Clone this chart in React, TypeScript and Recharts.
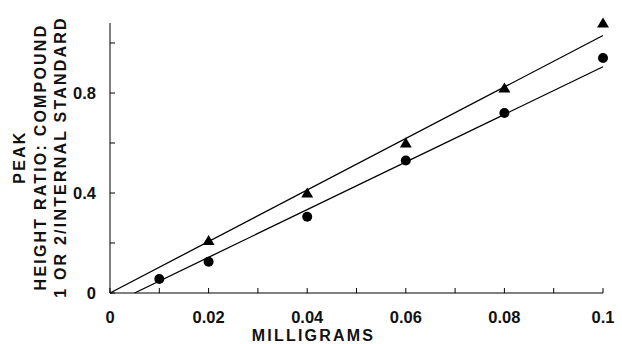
import React from 'react';
import { ScatterChart, Scatter, XAxis, YAxis, Label } from 'recharts';

const triangleX = [0.02, 0.04, 0.06, 0.08, 0.1];
const triangleY = [0.21, 0.40, 0.60, 0.82, 1.08];
const circleX = [0.01, 0.02, 0.04, 0.06, 0.08, 0.1];
const circleY = [0.056, 0.125, 0.305, 0.53, 0.72, 0.94];
const upperLineX = [0, 0.1];
const upperLineY = [0, 1.03];
const lowerLineX = [0.005, 0.1];
const lowerLineY = [0, 0.905];
const xTicks = [0, 0.01, 0.02, 0.03, 0.04, 0.05, 0.06, 0.07, 0.08, 0.09, 0.1];
const xLabeled = ['0', '0.02', '0.04', '0.06', '0.08', '0.1'];
const yTicks = [0, 0.2, 0.4, 0.6, 0.8, 1.0];
const yLabeled = ['0', '0.4', '0.8'];
const yLabelLines = ['PEAK', 'HEIGHT RATIO:  COMPOUND', '1 OR 2/INTERNAL STANDARD'];

const zip = (xs: number[], ys: number[]) => xs.map((x, i) => ({ x, y: ys[i] }));
const triangles = zip(triangleX, triangleY);
const circles = zip(circleX, circleY);
const upperLine = zip(upperLineX, upperLineY);
const lowerLine = zip(lowerLineX, lowerLineY);

const FONT = '"Liberation Sans", Arial, Helvetica, sans-serif';

const fmt = (labels: string[]) => (v: number) => {
  const s = String(Math.round(v * 1000) / 1000);
  return labels.includes(s) ? s : '';
};

const Tri = (props: any) => {
  const { cx, cy } = props;
  if (cx == null || cy == null) return <g />;
  return <path d={`M${cx},${cy - 5.5} L${cx + 6},${cy + 4.5} L${cx - 6},${cy + 4.5} Z`} fill="#000" />;
};
const Dot = (props: any) => {
  const { cx, cy } = props;
  if (cx == null || cy == null) return <g />;
  return <circle cx={cx} cy={cy} r={5} fill="#000" />;
};
const NoShape = () => <g />;

const YLabelContent = () => {
  const xs = [19, 40, 60];
  const cy = 157;
  return (
    <g>
      {yLabelLines.map((t, i) => (
        <text
          key={i}
          x={xs[i]}
          y={cy}
          transform={`rotate(-90 ${xs[i]} ${cy})`}
          textAnchor="middle"
          dominantBaseline="central"
          fontFamily={FONT}
          fontWeight="bold"
          fontSize={16}
          letterSpacing={2.2}
          fill="#111"
        >
          {t}
        </text>
      ))}
    </g>
  );
};

export default function App() {
  return (
    <div style={{ position: 'absolute', left: 0, top: 0, width: 622, height: 344, background: '#fff' }}>
      <ScatterChart width={622} height={344} margin={{ top: 23, right: 19, bottom: 21, left: 50 }}>
        <XAxis
          type="number"
          dataKey="x"
          domain={[0, 0.1]}
          ticks={xTicks}
          tickFormatter={fmt(xLabeled)}
          tickSize={-5}
          tickMargin={23}
          height={30}
          stroke="#000"
          tick={{ fill: '#111', fontFamily: FONT, fontWeight: 'bold', fontSize: 16.5 }}
        >
          <Label
            value="MILLIGRAMS"
            position="bottom"
            offset={7}
            dx={-43}
            style={{ fontFamily: FONT, fontWeight: 'bold', fontSize: 16, letterSpacing: 2.2, fill: '#111' }}
          />
        </XAxis>
        <YAxis
          type="number"
          dataKey="y"
          domain={[0, 1.08]}
          ticks={yTicks}
          tickFormatter={fmt(yLabeled)}
          tickSize={-5}
          tickMargin={19}
          width={60}
          stroke="#000"
          tick={{ fill: '#111', fontFamily: FONT, fontWeight: 'bold', fontSize: 16.5 }}
        >
          <Label content={<YLabelContent />} />
        </YAxis>
        <Scatter data={upperLine} line={{ stroke: '#000', strokeWidth: 1.3 }} shape={<NoShape />} isAnimationActive={false} />
        <Scatter data={lowerLine} line={{ stroke: '#000', strokeWidth: 1.3 }} shape={<NoShape />} isAnimationActive={false} />
        <Scatter data={triangles} shape={<Tri />} isAnimationActive={false} />
        <Scatter data={circles} shape={<Dot />} isAnimationActive={false} />
      </ScatterChart>
    </div>
  );
}
